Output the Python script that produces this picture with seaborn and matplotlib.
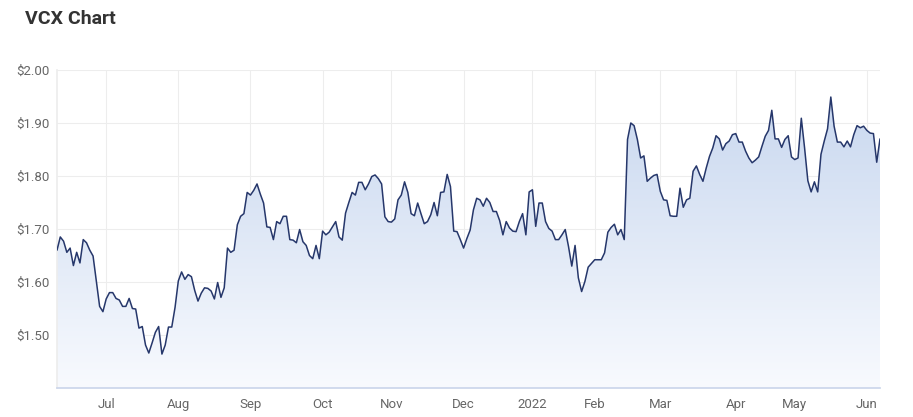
import numpy as np
import pandas as pd
import matplotlib.pyplot as plt
import seaborn as sns
from matplotlib.colors import LinearSegmentedColormap

# ASX trading days shown in the chart
asx_holidays = ['2021-06-14', '2021-12-27', '2021-12-28', '2022-01-03',
                '2022-01-26', '2022-04-15', '2022-04-18', '2022-04-25']
dates = pd.bdate_range('2021-06-09', '2022-06-07', freq='C', holidays=asx_holidays)

# closing prices
prices_jun_aug = [
    1.660, 1.685, 1.677, 1.656, 1.664, 1.631, 1.656, 1.636, 1.680, 1.674,
    1.660, 1.649, 1.602, 1.554, 1.544, 1.568, 1.580, 1.580, 1.569, 1.566,
    1.554, 1.554, 1.569, 1.550, 1.549, 1.513, 1.516, 1.481, 1.466, 1.485,
    1.505, 1.516, 1.464, 1.481, 1.515, 1.515, 1.552, 1.602, 1.619, 1.605,
    1.614, 1.610, 1.584, 1.564, 1.579, 1.589, 1.588, 1.583, 1.568, 1.599,
    1.571,
]
prices_aug_nov = [
    1.589, 1.664, 1.656, 1.660, 1.708, 1.724, 1.729, 1.769, 1.764, 1.773,
    1.785, 1.766, 1.749, 1.704, 1.703, 1.680, 1.714, 1.710, 1.724, 1.724,
    1.680, 1.679, 1.674, 1.699, 1.676, 1.669, 1.650, 1.644, 1.669, 1.644,
    1.696, 1.689, 1.694, 1.704, 1.714, 1.685, 1.679, 1.730, 1.750, 1.769,
    1.764, 1.788, 1.788, 1.774, 1.785, 1.799, 1.802, 1.795, 1.785, 1.723,
]
prices_nov_jan = [
    1.714, 1.713, 1.719, 1.755, 1.764, 1.789, 1.769, 1.729, 1.725, 1.749,
    1.729, 1.710, 1.714, 1.727, 1.750, 1.725, 1.769, 1.770, 1.803, 1.780,
    1.696, 1.695, 1.680, 1.664, 1.682, 1.698, 1.736, 1.758, 1.755, 1.743,
    1.758, 1.750, 1.733, 1.733, 1.716, 1.689, 1.714, 1.702, 1.696, 1.695,
    1.714, 1.729, 1.689, 1.770, 1.774, 1.705, 1.749, 1.749, 1.714, 1.701,
]
prices_jan_apr = [
    1.696, 1.680, 1.680, 1.689, 1.699, 1.667, 1.630, 1.669, 1.608, 1.582,
    1.601, 1.628, 1.635, 1.642, 1.642, 1.642, 1.655, 1.694, 1.703, 1.709,
    1.689, 1.699, 1.680, 1.869, 1.900, 1.895, 1.869, 1.834, 1.838, 1.790,
    1.796, 1.801, 1.803, 1.771, 1.755, 1.754, 1.725, 1.724, 1.724, 1.777,
    1.741, 1.755, 1.758, 1.809, 1.819, 1.803, 1.790, 1.815, 1.837, 1.853,
]
prices_apr_jun = [
    1.876, 1.870, 1.849, 1.861, 1.866, 1.878, 1.880, 1.864, 1.864, 1.847,
    1.834, 1.825, 1.830, 1.836, 1.856, 1.875, 1.886, 1.924, 1.870, 1.870,
    1.854, 1.869, 1.876, 1.836, 1.831, 1.834, 1.909, 1.853, 1.791, 1.770,
    1.789, 1.770, 1.841, 1.866, 1.889, 1.949, 1.894, 1.864, 1.864, 1.855,
    1.866, 1.855, 1.878, 1.895, 1.891, 1.894, 1.886, 1.881, 1.880, 1.826,
    1.870,
]
prices = prices_jun_aug + prices_aug_nov + prices_nov_jan + prices_jan_apr + prices_apr_jun

y_ticks = [1.50, 1.60, 1.70, 1.80, 1.90, 2.00]
y_min, y_max = 1.40, 2.00

df = pd.DataFrame({'date': dates, 'price': prices})
df['day'] = np.arange(len(df))

# month gridlines / labels sit on the first trading day of each month
month_start = df[df['date'].dt.month != df['date'].dt.month.shift()].iloc[1:]
x_ticks = month_start['day'].tolist()
x_labels = [str(d.year) if d.month == 1 else d.strftime('%b') for d in month_start['date']]

sns.set_theme(style="white")
plt.rcParams['font.family'] = ['Roboto', 'DejaVu Sans']

fig = plt.figure(figsize=(9.13, 4.17), dpi=100)
ax = fig.add_axes([57 / 913, 1 - 388 / 417, 823 / 913, 318 / 417])

# gradient fill under the line
fill = ax.fill_between(df['day'], df['price'], y_min, color='none', lw=0)
cmap = LinearSegmentedColormap.from_list('area', ['#f8fafe', '#c5d5ee'])
im = ax.imshow(np.linspace(1, 0, 256).reshape(-1, 1), cmap=cmap, aspect='auto',
               extent=[0, len(df) - 1, y_min, y_max], origin='upper', zorder=1)
im.set_clip_path(fill.get_paths()[0], transform=ax.transData)

sns.lineplot(data=df, x='day', y='price', color='#26376b', linewidth=1.1, ax=ax, zorder=3)

ax.set_xlim(0, len(df) - 1)
ax.set_ylim(y_min, y_max)
ax.set_xticks(x_ticks)
ax.set_xticklabels(x_labels)
ax.set_yticks(y_ticks)
ax.set_yticklabels([f"${v:.2f}" for v in y_ticks])
ax.set_xlabel('')
ax.set_ylabel('')

ax.grid(True, color='#ededed', linewidth=0.8, zorder=0)
ax.set_axisbelow(True)
for side in ['top', 'right']:
    ax.spines[side].set_visible(False)
ax.spines['left'].set_color('#ededed')
ax.spines['bottom'].set_color('#ccd6eb')
ax.tick_params(axis='both', length=0, labelcolor='#666666', labelsize=9.5)
ax.tick_params(axis='x', pad=7)
ax.tick_params(axis='y', pad=5)

fig.text(25 / 913, 1 - 19 / 417, 'VCX Chart', fontsize=14, fontweight='bold',
         color='#333333', va='center', ha='left')

fig.savefig('out.png', dpi=100)
